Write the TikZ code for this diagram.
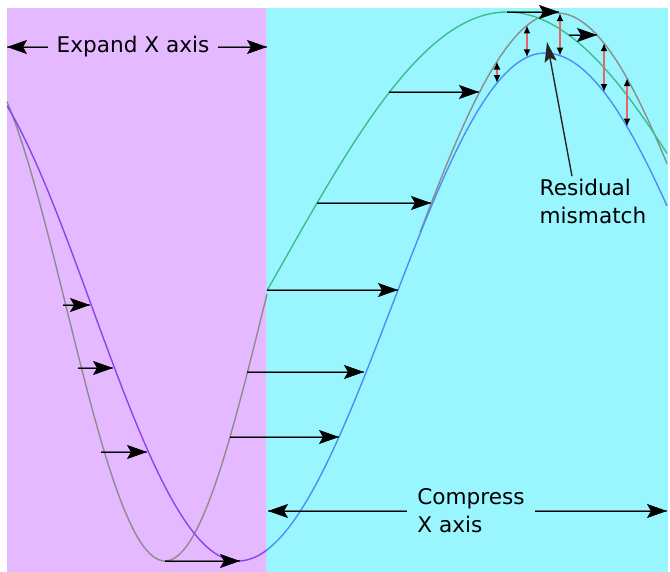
\documentclass[tikz,border=0pt]{standalone}
\usepackage{fontspec}
\setmainfont{DejaVu Sans}
\usepackage{xcolor}
\definecolor{colExpand}{RGB}{229,185,255}
\definecolor{colCompress}{RGB}{153,246,255}
\definecolor{colEdge}{RGB}{170,236,255}
\definecolor{colSrc}{RGB}{140,140,140}
\definecolor{colSrcR}{RGB}{60,190,140}
\definecolor{colWarp}{RGB}{136,68,238}
\definecolor{colTarget}{RGB}{80,140,245}
\definecolor{colResid}{RGB}{232,100,100}
\usepackage{tikz}
\usetikzlibrary{arrows.meta}

\begin{document}
\begin{tikzpicture}[
		x=0.5pt, y=-0.5pt,
		curve/.style={line width=0.7pt},
		shaft/.style={line width=1pt, draw=black, draw opacity=0.5},
		head/.style={line width=0.3pt, draw=black, -{Stealth[length=10pt, width=7pt, inset=2pt]}},
		pointer/.style={line width=0.7pt, draw=black!85, -{Stealth[length=10pt, width=6pt, inset=2pt]}},
		resid/.style={line width=1.1pt, draw=colResid,
			{Latex[color=black, length=4pt, width=3.5pt]}-{Latex[color=black, length=4pt, width=3.5pt]}},
		lbl/.style={font=\fontsize{10.8}{14}\selectfont, align=left, inner xsep=4pt, inner ysep=1pt},
		declare function={
			srcL(\x)=307+254*cos((\x-165)/197.6*180);
			srcR(\x)=266-254*cos((\x-507)/452*180);
			fitR(\x)=267-254*cos((\x-557)/300*180);
			dst(\x)=(\x<238) ? 307+254*cos((\x-238)/292*180) :
				((\x<545) ? 307+254*cos((\x-238)/307*180) : 307-254*cos((\x-545)/330*180));
		}
	]
		\useasboundingbox (0,0) rectangle (670,572);

		% ===== Background regions =====
		\fill[colExpand] (7,8) rectangle (267,572);
		\fill[colCompress] (267,8) rectangle (668,572);
		\draw[line width=0.6pt, colEdge] (267,8) -- (267,572);

		% ===== Curves =====
		% original signal (gray, then green past the split)
		\draw[curve, colSrc] plot[domain=7:267, samples=90] (\x, {srcL(\x)});
		\draw[curve, colSrc] plot[domain=420:667, samples=70] (\x, {fitR(\x)});
		\draw[curve, colSrcR] plot[domain=267:667, samples=90] (\x, {srcR(\x)});
		% target signal
		\draw[curve, colWarp] plot[domain=7:267, samples=90] (\x, {dst(\x)});
		\draw[curve, colTarget] plot[domain=267:667, samples=110] (\x, {dst(\x)});

		% ===== Warp arrows =====
		\coordinate (s1) at (63,305);   \coordinate (t1) at (90,305);
		\coordinate (s2) at (78,368);   \coordinate (t2) at (113,368);
		\coordinate (s3) at (101,452);  \coordinate (t3) at (147,452);
		\coordinate (s4) at (165,561);  \coordinate (t4) at (240,561);
		\coordinate (s5) at (230,437);  \coordinate (t5) at (339,437);
		\coordinate (s6) at (247,372);  \coordinate (t6) at (364,372);
		\coordinate (s7) at (267,290);  \coordinate (t7) at (398,290);
		\coordinate (s8) at (317,203);  \coordinate (t8) at (431,203);
		\coordinate (s9) at (389,92);   \coordinate (t9) at (479,92);
		\coordinate (s10) at (507,12);  \coordinate (t10) at (559,12);
		\coordinate (s11) at (569,35);  \coordinate (t11) at (597,35);
		\foreach \i in {1,...,11} {
			\draw[shaft] (s\i) -- (t\i);
			\draw[head] (s\i) -- (t\i);
		}

		% ===== Residual mismatch =====
		\foreach \x in {497,527,560,604,627} {
			\coordinate (rt\x) at (\x, {fitR(\x)});
			\coordinate (rb\x) at (\x, {dst(\x)});
			\draw[resid] (rt\x) -- (rb\x);
		}
		\node[lbl] (resid) at (593,201) {Residual\\mismatch};
		\coordinate (gap) at (547,42);
		\draw[pointer] ([xshift=-10.5pt]resid.north) -- (gap);

		% ===== Axis labels =====
		\node[lbl] (expand) at (133,47) {Expand X axis};
		\coordinate (expL) at (7,47);
		\coordinate (expR) at (267,47);
		\node[lbl, inner xsep=5pt] (compress) at (471,511) {Compress\\X axis};
		\coordinate (cmpL) at (268,511);
		\coordinate (cmpR) at (667,511);
		\foreach \n/\c in {expand.west/expL, expand.east/expR, compress.west/cmpL, compress.east/cmpR} {
			\draw[shaft] (\n) -- (\n -| \c);
			\draw[head] (\n) -- (\n -| \c);
		}
	\end{tikzpicture}
\end{document}
